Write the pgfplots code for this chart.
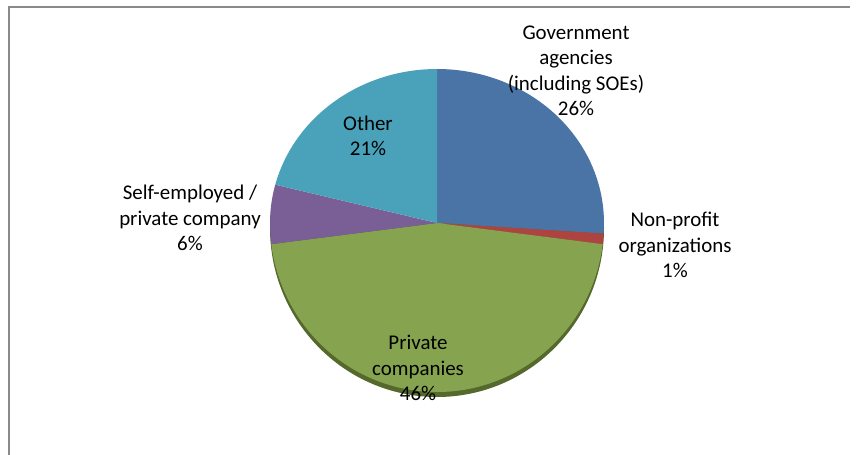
\documentclass[border=0pt]{standalone}
\usepackage{pgfplots}
\pgfplotsset{compat=1.18}
\usepackage{pgfplotstable}
\usepackage{fontspec}
\setmainfont{Carlito}

\definecolor{c0}{HTML}{4A74A6}
\definecolor{c1}{HTML}{AE4441}
\definecolor{c2}{HTML}{86A450}
\definecolor{c3}{HTML}{7A5E96}
\definecolor{c4}{HTML}{4AA2BA}
\definecolor{rim}{HTML}{55692C}
\definecolor{frame}{HTML}{8A8A8A}

\pgfplotstableread{
label value
Government 26
Nonprofit 1
Private 46
Selfemployed 6
Other 21
}\pietable

\begin{document}
\begin{tikzpicture}
\path[use as bounding box] (0,0) rectangle (856bp,455bp);
\gdef\cum{0}%
\pgfplotsinvokeforeach{0,...,4}{%
  \pgfplotstablegetelem{#1}{value}\of\pietable
  \pgfmathsetmacro\sa{90-3.6*\cum}%
  \pgfmathsetmacro\newcum{\cum+\pgfplotsretval}%
  \pgfmathsetmacro\ea{90-3.6*\newcum}%
  \expandafter\xdef\csname sa#1\endcsname{\sa}%
  \expandafter\xdef\csname ea#1\endcsname{\ea}%
  \xdef\cum{\newcum}%
}
\begin{axis}[
  at={(0,0)}, anchor=south west,
  scale only axis, width=856bp, height=455bp,
  xmin=0, xmax=856, ymin=0, ymax=455,
  hide axis, clip=false,
]
% frame
\draw[frame, line width=2bp] (axis cs:9,0) -- (axis cs:9,448) -- (axis cs:850,448);
% rim (3D edge)
\begin{scope}
  \clip (axis cs:200,232) rectangle (axis cs:700,0);
  \fill[rim] (axis cs:437,227) ellipse[x radius=167bp, y radius=169bp];
\end{scope}
% slices
\pgfplotsinvokeforeach{0,...,4}{
  \begin{scope}
    \clip (axis cs:200,231.6) rectangle (axis cs:700,455);
    \fill[c#1] (axis cs:437,232) -- ++(\csname sa#1\endcsname:167bp and 154bp)
      arc[start angle=\csname sa#1\endcsname, end angle=\csname ea#1\endcsname, x radius=167bp, y radius=154bp] -- cycle;
  \end{scope}
  \begin{scope}
    \clip (axis cs:200,232.4) rectangle (axis cs:700,0);
    \fill[c#1] (axis cs:437,232) -- ++(\csname sa#1\endcsname:167bp and 169bp)
      arc[start angle=\csname sa#1\endcsname, end angle=\csname ea#1\endcsname, x radius=167bp, y radius=169bp] -- cycle;
  \end{scope}
}
% labels
\tikzset{lab/.style={align=center, inner sep=0pt, font=\fontsize{21}{25.6}\selectfont}}
\node[lab] at (axis cs:576,384) {Government\\agencies\\(including SOEs)\\26\%};
\node[lab] at (axis cs:675,210) {Non-profit\\organizations\\1\%};
\node[lab] at (axis cs:418,87) {Private\\companies\\46\%};
\node[lab] at (axis cs:190,237) {Self-employed /\\private company\\6\%};
\node[lab] at (axis cs:368,319) {Other\\21\%};
\end{axis}
\end{tikzpicture}
\end{document}
